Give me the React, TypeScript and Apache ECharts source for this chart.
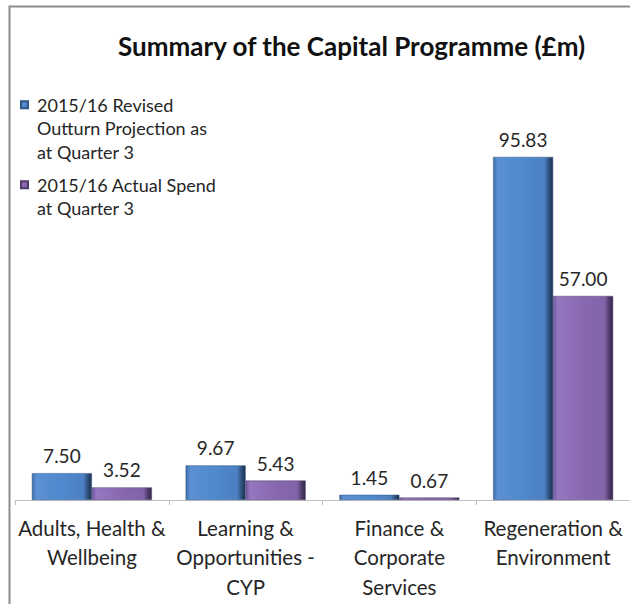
import React, { useEffect, useRef } from "react";
import * as echarts from "echarts";

const titleText = "Summary of the Capital Programme (£m)";
const categories = [
  "Adults, Health &\nWellbeing",
  "Learning &\nOpportunities -\nCYP",
  "Finance &\nCorporate\nServices",
  "Regeneration &\nEnvironment",
];
const seriesNames = [
  "2015/16 Revised Outturn Projection as at Quarter 3",
  "2015/16 Actual Spend at Quarter 3",
];
// leading blank lines keep the legend marker level with the first text line
const legendLabels = [
  "\n\n2015/16 Revised\nOutturn Projection as\nat Quarter 3",
  "\n2015/16 Actual Spend\nat Quarter 3",
];
const revised = [7.5, 9.67, 1.45, 95.83];
const actual = [3.52, 5.43, 0.67, 57.0];

const FONT = "Lato";

function blueFill() {
  return new echarts.graphic.LinearGradient(0, 0, 1, 0, [
    { offset: 0, color: "#3f6ea9" },
    { offset: 0.07, color: "#5b90d4" },
    { offset: 0.5, color: "#5089cd" },
    { offset: 0.86, color: "#4b80c2" },
    { offset: 0.94, color: "#2d4d77" },
    { offset: 1, color: "#1c3150" },
  ]);
}
function purpleFill() {
  return new echarts.graphic.LinearGradient(0, 0, 1, 0, [
    { offset: 0, color: "#6e55a0" },
    { offset: 0.07, color: "#9577c0" },
    { offset: 0.5, color: "#8869b0" },
    { offset: 0.86, color: "#8163a8" },
    { offset: 0.94, color: "#4e3a69" },
    { offset: 1, color: "#35284a" },
  ]);
}

export default function App() {
  const ref = useRef<HTMLDivElement>(null);
  useEffect(() => {
    document.body.style.margin = "0";
    if (!ref.current) return;
    const chart = echarts.init(ref.current, undefined, { renderer: "svg" });
    const label = {
      show: true,
      position: "top",
      distance: 8,
      fontFamily: FONT,
      fontSize: 19,
      color: "#262626",
      formatter: (p: any) => Number(p.value).toFixed(2),
    };
    chart.setOption({
      animation: false,
      backgroundColor: "#ffffff",
      title: {
        text: titleText,
        left: 118,
        top: 33,
        padding: 0,
        textStyle: { fontFamily: FONT, fontSize: 26, fontWeight: "bold", color: "#111111" },
      },
      legend: {
        orient: "vertical",
        left: 15,
        top: 41,
        itemWidth: 7,
        itemHeight: 7,
        itemGap: -14,
        icon: "rect",
        data: seriesNames,
        formatter: (n: string) => legendLabels[seriesNames.indexOf(n)],
        textStyle: {
          fontFamily: FONT,
          fontSize: 18,
          lineHeight: 23.5,
          color: "#262626",
          padding: [0, 0, 0, 4],
        },
      },
      graphic: [
        {
          type: "rect",
          shape: { x: 9.5, y: 6.5, width: 640, height: 620 },
          style: { fill: "none", stroke: "#8c8c8c", lineWidth: 2 },
          silent: true,
        },
      ],
      grid: { left: 15, right: 0, top: 142, bottom: 104 },
      xAxis: {
        type: "category",
        data: categories,
        axisLine: { lineStyle: { color: "#bfbfbf", width: 1 } },
        axisTick: { show: true, length: 5, lineStyle: { color: "#bfbfbf" } },
        axisLabel: {
          interval: 0,
          margin: 13,
          fontFamily: FONT,
          fontSize: 20.5,
          lineHeight: 29.5,
          color: "#262626",
        },
      },
      yAxis: { type: "value", min: 0, max: 100, show: false, splitLine: { show: false } },
      series: [
        {
          name: seriesNames[0],
          type: "bar",
          data: revised,
          barWidth: 60,
          barGap: "0%",
          itemStyle: { color: blueFill(), borderColor: "#2f5584", borderWidth: 0.5 },
          label,
        },
        {
          name: seriesNames[1],
          type: "bar",
          data: actual,
          barWidth: 60,
          barGap: "0%",
          itemStyle: { color: purpleFill(), borderColor: "#4f3c6b", borderWidth: 0.5 },
          label,
        },
      ],
    });
    return () => chart.dispose();
  }, []);
  return <div ref={ref} style={{ width: 630, height: 604 }} />;
}
